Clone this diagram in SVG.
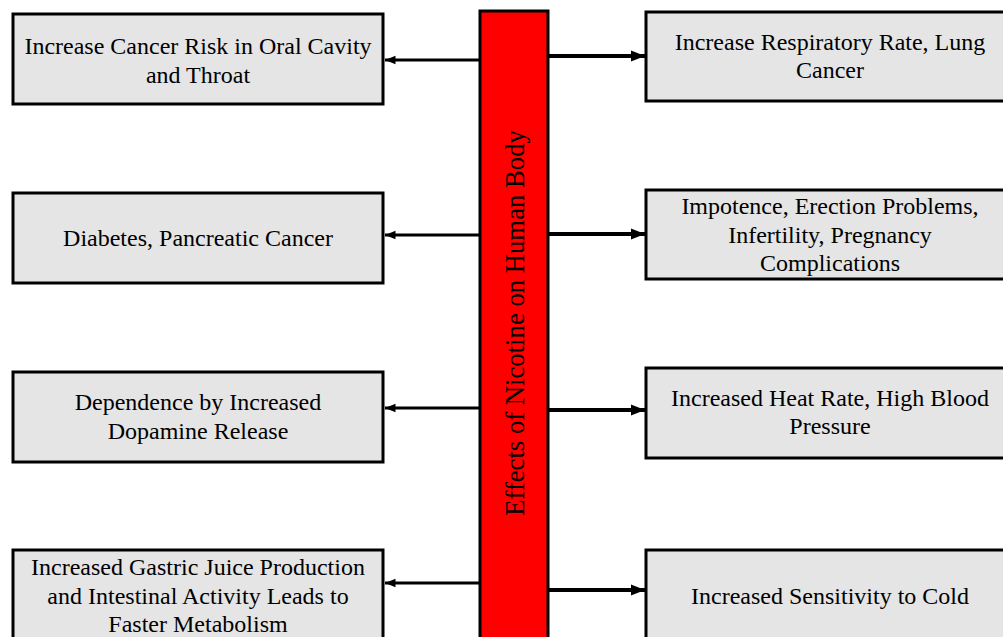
<svg xmlns="http://www.w3.org/2000/svg" width="1003" height="637" viewBox="0 0 1003 637">
  <style>
    .box { fill: #e5e5e5; stroke: #000; stroke-width: 3; }
    .bar { fill: #ff0000; stroke: #000; stroke-width: 3; }
    .lbl { font-family: "Times New Roman", "Liberation Serif", serif; font-size: 24px; fill: #000; text-anchor: middle; }
    .title { font-family: "Times New Roman", "Liberation Serif", serif; font-size: 26.7px; fill: #000; text-anchor: middle; }
    .conL { stroke: #000; stroke-width: 3; fill: none; marker-end: url(#arrow); }
    .conR { stroke: #000; stroke-width: 4; fill: none; marker-end: url(#arrow); }
  </style>
  <defs>
    <marker id="arrow" viewBox="0 0 10 10" refX="10" refY="5" markerWidth="3.5" markerHeight="3.5" markerUnits="strokeWidth" orient="auto">
      <path d="M0,1 L10,5 L0,9 z" fill="#000"/>
    </marker>
  </defs>
  <rect width="1003" height="637" fill="#fff"/>

  <!-- central bar -->
  <g id="center">
    <rect class="bar" x="480" y="11" width="68" height="630"/>
    <text class="title" transform="translate(524,323) rotate(-90)">Effects of Nicotine on Human Body</text>
  </g>

  <!-- left column -->
  <g id="oral">
    <rect class="box" x="13" y="14" width="370" height="90"/>
    <text class="lbl" x="198" y="54">Increase Cancer Risk in Oral Cavity</text>
    <text class="lbl" x="198" y="83">and Throat</text>
  </g>
  <g id="diabetes">
    <rect class="box" x="13" y="193" width="370" height="90"/>
    <text class="lbl" x="198" y="246">Diabetes, Pancreatic Cancer</text>
  </g>
  <g id="dependence">
    <rect class="box" x="13" y="372" width="370" height="90"/>
    <text class="lbl" x="198" y="410">Dependence by Increased</text>
    <text class="lbl" x="198" y="439">Dopamine Release</text>
  </g>
  <g id="gastric">
    <rect class="box" x="13" y="550" width="370" height="95"/>
    <text class="lbl" x="198" y="575">Increased Gastric Juice Production</text>
    <text class="lbl" x="198" y="604">and Intestinal Activity Leads to</text>
    <text class="lbl" x="198" y="632">Faster Metabolism</text>
  </g>

  <!-- right column -->
  <g id="respiratory">
    <rect class="box" x="646" y="12" width="362" height="89"/>
    <text class="lbl" x="830" y="50">Increase Respiratory Rate, Lung</text>
    <text class="lbl" x="830" y="78">Cancer</text>
  </g>
  <g id="impotence">
    <rect class="box" x="646" y="190" width="362" height="89"/>
    <text class="lbl" x="830" y="214">Impotence, Erection Problems,</text>
    <text class="lbl" x="830" y="243">Infertility, Pregnancy</text>
    <text class="lbl" x="830" y="271">Complications</text>
  </g>
  <g id="heart">
    <rect class="box" x="646" y="368" width="362" height="90"/>
    <text class="lbl" x="830" y="406">Increased Heat Rate, High Blood</text>
    <text class="lbl" x="830" y="434">Pressure</text>
  </g>
  <g id="cold">
    <rect class="box" x="646" y="550" width="362" height="95"/>
    <text class="lbl" x="830" y="604">Increased Sensitivity to Cold</text>
  </g>

  <!-- connectors -->
  <g id="connectors">
    <line class="conL" x1="480" y1="60" x2="385" y2="60"/>
    <line class="conL" x1="480" y1="235" x2="385" y2="235"/>
    <line class="conL" x1="480" y1="408" x2="385" y2="408"/>
    <line class="conL" x1="480" y1="583" x2="385" y2="583"/>
    <line class="conR" x1="548" y1="56" x2="645" y2="56"/>
    <line class="conR" x1="548" y1="234" x2="645" y2="234"/>
    <line class="conR" x1="548" y1="410" x2="645" y2="410"/>
    <line class="conR" x1="548" y1="590" x2="645" y2="590"/>
  </g>
</svg>
